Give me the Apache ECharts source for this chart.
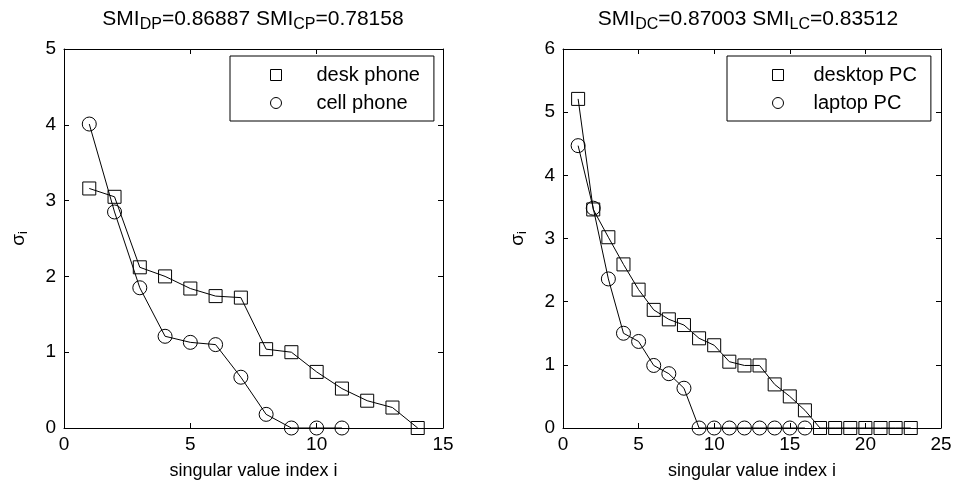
<!DOCTYPE html>
<html lang="en">
<head>
    <meta charset="UTF-8">
    <title>SMI</title>
    <script src="https://cdn.jsdelivr.net/npm/echarts@6/dist/echarts.min.js"></script>
</head>
<body style="margin:0;background:#fff">
<div style="width:955px;height:485px" id="picture"></div>
<script>
    // singular values, index starts at 1
    var deskPhone = [3.16, 3.05, 2.12, 2.0, 1.84, 1.74, 1.72, 1.04, 1.0, 0.74, 0.52, 0.36, 0.27, 0];
    var cellPhone = [4.01, 2.85, 1.85, 1.21, 1.13, 1.10, 0.67, 0.18, 0, 0, 0];
    var desktopPC = [5.21, 3.46, 3.02, 2.59, 2.19, 1.87, 1.72, 1.63, 1.42, 1.31, 1.05, 0.99, 0.99, 0.69, 0.50, 0.28, 0, 0, 0, 0, 0, 0, 0];
    var laptopPC = [4.47, 3.48, 2.36, 1.50, 1.37, 0.99, 0.86, 0.63, 0, 0, 0, 0, 0, 0, 0, 0];
    var leftXTicks = [0, 15, 5];   // min, max, interval
    var leftYTicks = [0, 5, 1];
    var rightXTicks = [0, 25, 5];
    var rightYTicks = [0, 6, 1];

    var font = 'Liberation Sans, Arial, sans-serif';
    var fs = 18;

    function toPoints(list) {
        var out = [];
        for (var i = 0; i < list.length; i++) {
            out.push([i + 1, list[i]]);
        }
        return out;
    }

    function xAxis(grid, t, pos) {
        return {
            type: 'value', gridIndex: grid, position: pos,
            min: t[0], max: t[1], interval: t[2],
            axisLine: {show: true, onZero: false, lineStyle: {color: '#000', width: 1}},
            axisTick: {show: true, inside: true, length: 5, lineStyle: {color: '#000'}},
            axisLabel: {show: pos === 'bottom', color: '#000', fontSize: 19, fontFamily: font, margin: 7},
            splitLine: {show: false},
            name: pos === 'bottom' ? 'singular value index i' : '',
            nameLocation: 'middle', nameGap: 34,
            nameTextStyle: {color: '#000', fontSize: fs, fontFamily: font}
        };
    }

    function yAxis(grid, t, pos) {
        return {
            type: 'value', gridIndex: grid, position: pos,
            min: t[0], max: t[1], interval: t[2],
            axisLine: {show: true, onZero: false, lineStyle: {color: '#000', width: 1}},
            axisTick: {show: true, inside: true, length: 5, lineStyle: {color: '#000'}},
            axisLabel: {show: pos === 'left', color: '#000', fontSize: 19, fontFamily: font, margin: 8},
            splitLine: {show: false},
            name: pos === 'left' ? '{n|σ}{s|i}' : '',
            nameLocation: 'middle', nameGap: 34, nameRotate: 90,
            nameTextStyle: {
                color: '#000', fontFamily: font,
                rich: {
                    n: {fontSize: 19, fontFamily: font, color: '#000'},
                    s: {fontSize: 13, fontFamily: font, color: '#000', padding: [10, 0, 0, 0]}
                }
            }
        };
    }

    function series(name, list, xi, yi, sym, size) {
        return {
            name: name, type: 'line', xAxisIndex: xi, yAxisIndex: yi,
            data: toPoints(list), symbol: sym, symbolSize: size,
            showAllSymbol: true, clip: false, animation: false,
            lineStyle: {color: '#000', width: 1},
            itemStyle: {color: 'rgba(0,0,0,0)', borderColor: '#000', borderWidth: 1}
        };
    }

    var titleRich = {
        n: {fontSize: 21, fontWeight: 'normal', fontFamily: font, color: '#000'},
        s: {fontSize: 16, fontWeight: 'normal', fontFamily: font, color: '#000', padding: [11, 0, 0, 0]}
    };

    var legendItem = {color: 'rgba(0,0,0,0)', borderColor: '#000', borderWidth: 1};

    var myChart = echarts.init(document.getElementById('picture'));
    var option = {
        backgroundColor: '#fff',
        animation: false,
        title: [
            {text: '{n|SMI}{s|DP}{n|=0.86887 SMI}{s|CP}{n|=0.78158}', left: 248, top: 1, textAlign: 'center',
                textStyle: {fontWeight: 'normal', rich: titleRich}},
            {text: '{n|SMI}{s|DC}{n|=0.87003 SMI}{s|LC}{n|=0.83512}', left: 743, top: 1, textAlign: 'center',
                textStyle: {fontWeight: 'normal', rich: titleRich}}
        ],
        grid: [
            {left: 64, right: 512, top: 49, bottom: 56},
            {left: 563, right: 14, top: 49, bottom: 56}
        ],
        legend: [
            {
                left: 230, top: 56, orient: 'vertical', backgroundColor: '#fff',
                borderColor: '#000', borderWidth: 1, padding: [9, 14, 8, 40],
                itemWidth: 11, itemHeight: 11, itemGap: 8,
                textStyle: {color: '#000', fontSize: 20, fontFamily: font, padding: [0, 0, 0, 30]},
                data: [
                    {name: 'desk phone', icon: 'rect', itemStyle: legendItem},
                    {name: 'cell phone', icon: 'circle', itemStyle: legendItem}
                ]
            },
            {
                left: 727, top: 56, orient: 'vertical', backgroundColor: '#fff',
                borderColor: '#000', borderWidth: 1, padding: [9, 14, 8, 45],
                itemWidth: 11, itemHeight: 11, itemGap: 8,
                textStyle: {color: '#000', fontSize: 20, fontFamily: font, padding: [0, 0, 0, 25]},
                data: [
                    {name: 'desktop PC', icon: 'rect', itemStyle: legendItem},
                    {name: 'laptop PC', icon: 'circle', itemStyle: legendItem}
                ]
            }
        ],
        xAxis: [
            xAxis(0, leftXTicks, 'bottom'),
            xAxis(0, leftXTicks, 'top'),
            xAxis(1, rightXTicks, 'bottom'),
            xAxis(1, rightXTicks, 'top')
        ],
        yAxis: [
            yAxis(0, leftYTicks, 'left'),
            yAxis(0, leftYTicks, 'right'),
            yAxis(1, rightYTicks, 'left'),
            yAxis(1, rightYTicks, 'right')
        ],
        series: [
            series('desk phone', deskPhone, 0, 0, 'rect', 13),
            series('cell phone', cellPhone, 0, 0, 'circle', 14),
            series('desktop PC', desktopPC, 2, 2, 'rect', 13),
            series('laptop PC', laptopPC, 2, 2, 'circle', 14)
        ]
    };
    myChart.setOption(option);
</script>
</body>
</html>
